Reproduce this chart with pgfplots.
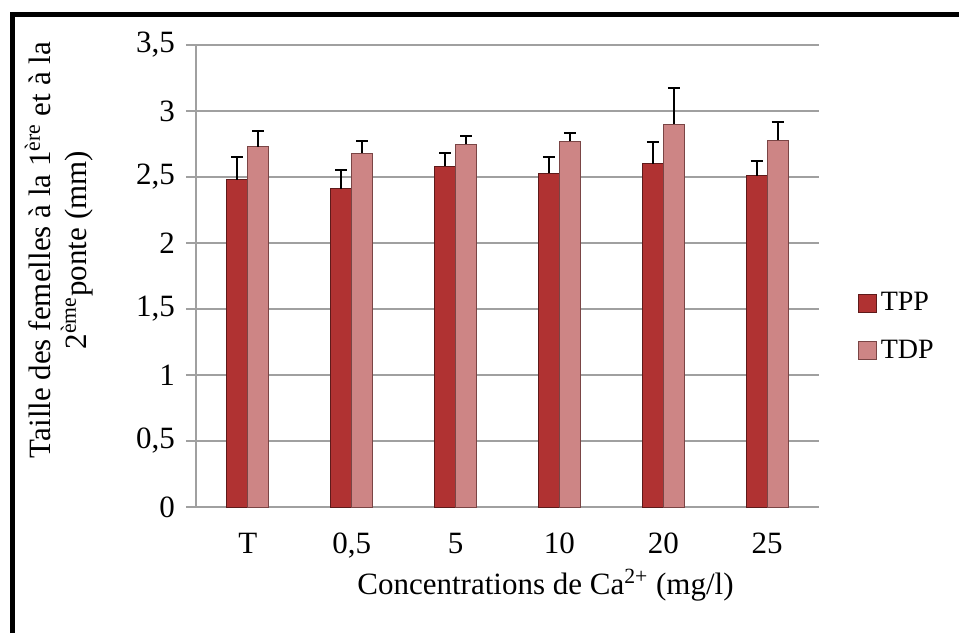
\documentclass[border=0pt]{standalone}
\usepackage{fontspec}
\setmainfont{Liberation Serif}
\usepackage{pgfplots}
\pgfplotsset{compat=1.18}

\definecolor{tppF}{HTML}{B03232}
\definecolor{tppD}{HTML}{5E1A1A}
\definecolor{tdpF}{HTML}{CD8585}
\definecolor{tdpD}{HTML}{7A4545}
\definecolor{gridc}{HTML}{A0A0A0}

\begin{document}
\begin{tikzpicture}
	\path[use as bounding box] (-98pt,-63pt) rectangle (381.5pt,253.5pt);
	\begin{axis}[
			scale only axis,
			width=311.5pt, height=231pt,
			ybar=0pt,
			bar width=10.5pt,
			xmin=-0.5, xmax=5.5,
			ymin=0, ymax=3.5,
			xtick={0,1,2,3,4,5},
			xticklabels={T,{0,5},5,10,20,25},
			ytick={0,0.5,1,1.5,2,2.5,3,3.5},
			axis x line*=bottom,
			axis y line*=left,
			axis line style={gridc, line width=0.8pt},
			ymajorgrids,
			grid style={gridc, line width=0.8pt},
			tick align=outside,
			major tick length=5pt,
			xtick style={draw=none},
			ytick style={gridc, line width=0.8pt},
			/pgf/number format/use comma,
			/pgf/number format/1000 sep={},
			/pgf/number format/assume math mode=true,
			font=\rmfamily\fontsize{15.5}{18}\selectfont,
			xticklabel style={yshift=-4.5pt},
			yticklabel style={xshift=-2pt},
			xlabel={Concentrations de Ca\textsuperscript{2+} (mg/l)},
			xlabel style={at={(rel axis cs:0.561,-0.169)}, anchor=center},
			ylabel={Taille des femelles à la 1\textsuperscript{ère} et à la\\2\textsuperscript{ème}ponte (mm)},
			ylabel style={at={(rel axis cs:-0.22,0.556)}, anchor=center, align=center,
				font=\rmfamily\fontsize{15.5}{18}\selectfont},
			legend style={at={(rel axis cs:1.052,0.39)}, anchor=west, draw=none, fill=none,
				font=\rmfamily\fontsize{14}{16}\selectfont, row sep=9pt},
			legend cell align=left,
			legend image code/.code={\draw[#1] (0pt,-4.5pt) rectangle (9pt,4.5pt);},
		]
		\addplot[draw=tppD, line width=0.5pt, fill=tppF,
			error bars/.cd, y dir=plus, y explicit,
			error bar style={black, line width=1pt},
			error mark options={black, rotate=90, mark size=3pt, line width=1pt}]
		coordinates {
			(0,2.48) +- (0,0.17)
			(1,2.41) +- (0,0.14)
			(2,2.58) +- (0,0.10)
			(3,2.53) +- (0,0.12)
			(4,2.60) +- (0,0.165)
			(5,2.51) +- (0,0.11)
		};
		\addplot[draw=tdpD, line width=0.5pt, fill=tdpF,
			error bars/.cd, y dir=plus, y explicit,
			error bar style={black, line width=1pt},
			error mark options={black, rotate=90, mark size=3pt, line width=1pt}]
		coordinates {
			(0,2.73) +- (0,0.12)
			(1,2.68) +- (0,0.09)
			(2,2.75) +- (0,0.06)
			(3,2.77) +- (0,0.06)
			(4,2.90) +- (0,0.275)
			(5,2.78) +- (0,0.14)
		};
		\legend{TPP, TDP}
	\end{axis}
	\draw[black, line width=2.2pt] (-91.75pt,-63pt) -- (-91.75pt,246.25pt) -- (381.5pt,246.25pt);
\end{tikzpicture}
\end{document}
